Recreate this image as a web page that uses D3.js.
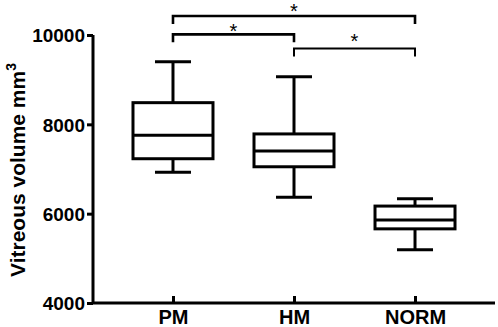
<!DOCTYPE html>
<html>
<head>
<meta charset="utf-8">
<script src="https://cdn.jsdelivr.net/npm/d3@7"></script>
<style>
  body { margin: 0; background: #fff; }
  svg { display: block; font-family: "Liberation Sans", Arial, sans-serif; }
</style>
</head>
<body>
<div id="chart"></div>
<script>
const size = { width: 498, height: 327 };

// data
var groups = ["PM", "HM", "NORM"];
var mins = [6930, 6370, 5190];
var q1s = [7230, 7050, 5660];
var medians = [7755, 7405, 5860];
var q3s = [8485, 7785, 6170];
var maxs = [9400, 9065, 6335];
var yTicks = [4000, 6000, 8000, 10000];
// significance brackets: [from, to, level]
var pairs = [["PM", "NORM", 10425], ["PM", "HM", 10015], ["HM", "NORM", 9700]];

const svg = d3.select("#chart").append("svg")
    .attr("width", size.width).attr("height", size.height);

const x = d3.scalePoint().domain(groups).range([93, 495]).padding(0.661);
const y = d3.scaleLinear().domain([4000, 10000]).range([303, 35]);

const boxHalf = 40, capHalf = 18;

// y axis
const yAxis = svg.append("g").attr("transform", "translate(93,0)")
    .call(d3.axisLeft(y).tickValues(yTicks).tickSize(6).tickPadding(2).tickFormat(d3.format("d")));
yAxis.select(".domain").attr("stroke-width", 3).attr("d", "M0," + y(10000) + "V" + y(4000));
yAxis.selectAll(".tick line").attr("stroke-width", 3);
yAxis.selectAll("text").attr("font-size", "19px").attr("font-weight", "bold").attr("fill", "#000")
    .attr("font-family", "Liberation Sans, Arial, sans-serif").attr("dy", "0.36em");

// x axis, ticks point into the plot
const xAxis = svg.append("g").attr("transform", "translate(0,303)")
    .call(d3.axisBottom(x).tickSize(-7));
xAxis.select(".domain").attr("stroke-width", 3).attr("d", "M93,0H495");
xAxis.selectAll(".tick line").attr("stroke-width", 3);
xAxis.selectAll("text").attr("font-size", "20px").attr("font-weight", "bold").attr("fill", "#000")
    .attr("font-family", "Liberation Sans, Arial, sans-serif").attr("y", 21).attr("dy", 0);

// y title
svg.append("text")
    .attr("transform", "translate(25," + 170 + ") rotate(-90)")
    .attr("text-anchor", "middle")
    .attr("font-size", "21px").attr("font-weight", "bold")
    .text("Vitreous volume mm")
    .append("tspan").attr("font-size", "14px").attr("dy", "-9").text("3");

// boxes
const box = svg.selectAll(".box").data(groups).enter().append("g").attr("class", "box");
box.append("line")
    .attr("x1", d => x(d)).attr("x2", d => x(d))
    .attr("y1", (d, i) => y(maxs[i])).attr("y2", (d, i) => y(q3s[i]))
    .attr("stroke", "#000").attr("stroke-width", 3);
box.append("line")
    .attr("x1", d => x(d)).attr("x2", d => x(d))
    .attr("y1", (d, i) => y(q1s[i])).attr("y2", (d, i) => y(mins[i]))
    .attr("stroke", "#000").attr("stroke-width", 3);
box.append("line")
    .attr("x1", d => x(d) - capHalf).attr("x2", d => x(d) + capHalf)
    .attr("y1", (d, i) => y(maxs[i])).attr("y2", (d, i) => y(maxs[i]))
    .attr("stroke", "#000").attr("stroke-width", 3);
box.append("line")
    .attr("x1", d => x(d) - capHalf).attr("x2", d => x(d) + capHalf)
    .attr("y1", (d, i) => y(mins[i])).attr("y2", (d, i) => y(mins[i]))
    .attr("stroke", "#000").attr("stroke-width", 3);
box.append("rect")
    .attr("x", d => x(d) - boxHalf).attr("width", boxHalf * 2)
    .attr("y", (d, i) => y(q3s[i])).attr("height", (d, i) => y(q1s[i]) - y(q3s[i]))
    .attr("fill", "#fff").attr("stroke", "#000").attr("stroke-width", 3);
box.append("line")
    .attr("x1", d => x(d) - boxHalf).attr("x2", d => x(d) + boxHalf)
    .attr("y1", (d, i) => y(medians[i])).attr("y2", (d, i) => y(medians[i]))
    .attr("stroke", "#000").attr("stroke-width", 3);

// brackets
const br = svg.selectAll(".bracket").data(pairs).enter().append("g").attr("class", "bracket");
br.append("path")
    .attr("d", d => "M" + x(d[0]) + "," + (y(d[2]) + 8) + "V" + y(d[2]) + "H" + x(d[1]) + "V" + (y(d[2]) + 8))
    .attr("fill", "none").attr("stroke", "#000")
    .attr("stroke-width", (d, i) => i == 2 ? 2 : 2.6);
br.append("text")
    .attr("x", d => (x(d[0]) + x(d[1])) / 2)
    .attr("y", (d, i) => Math.max(18, y(d[2]) + (i == 1 ? 4 : 0)))
    .attr("text-anchor", "middle")
    .attr("font-size", "20px")
    .text("*");
</script>
</body>
</html>
